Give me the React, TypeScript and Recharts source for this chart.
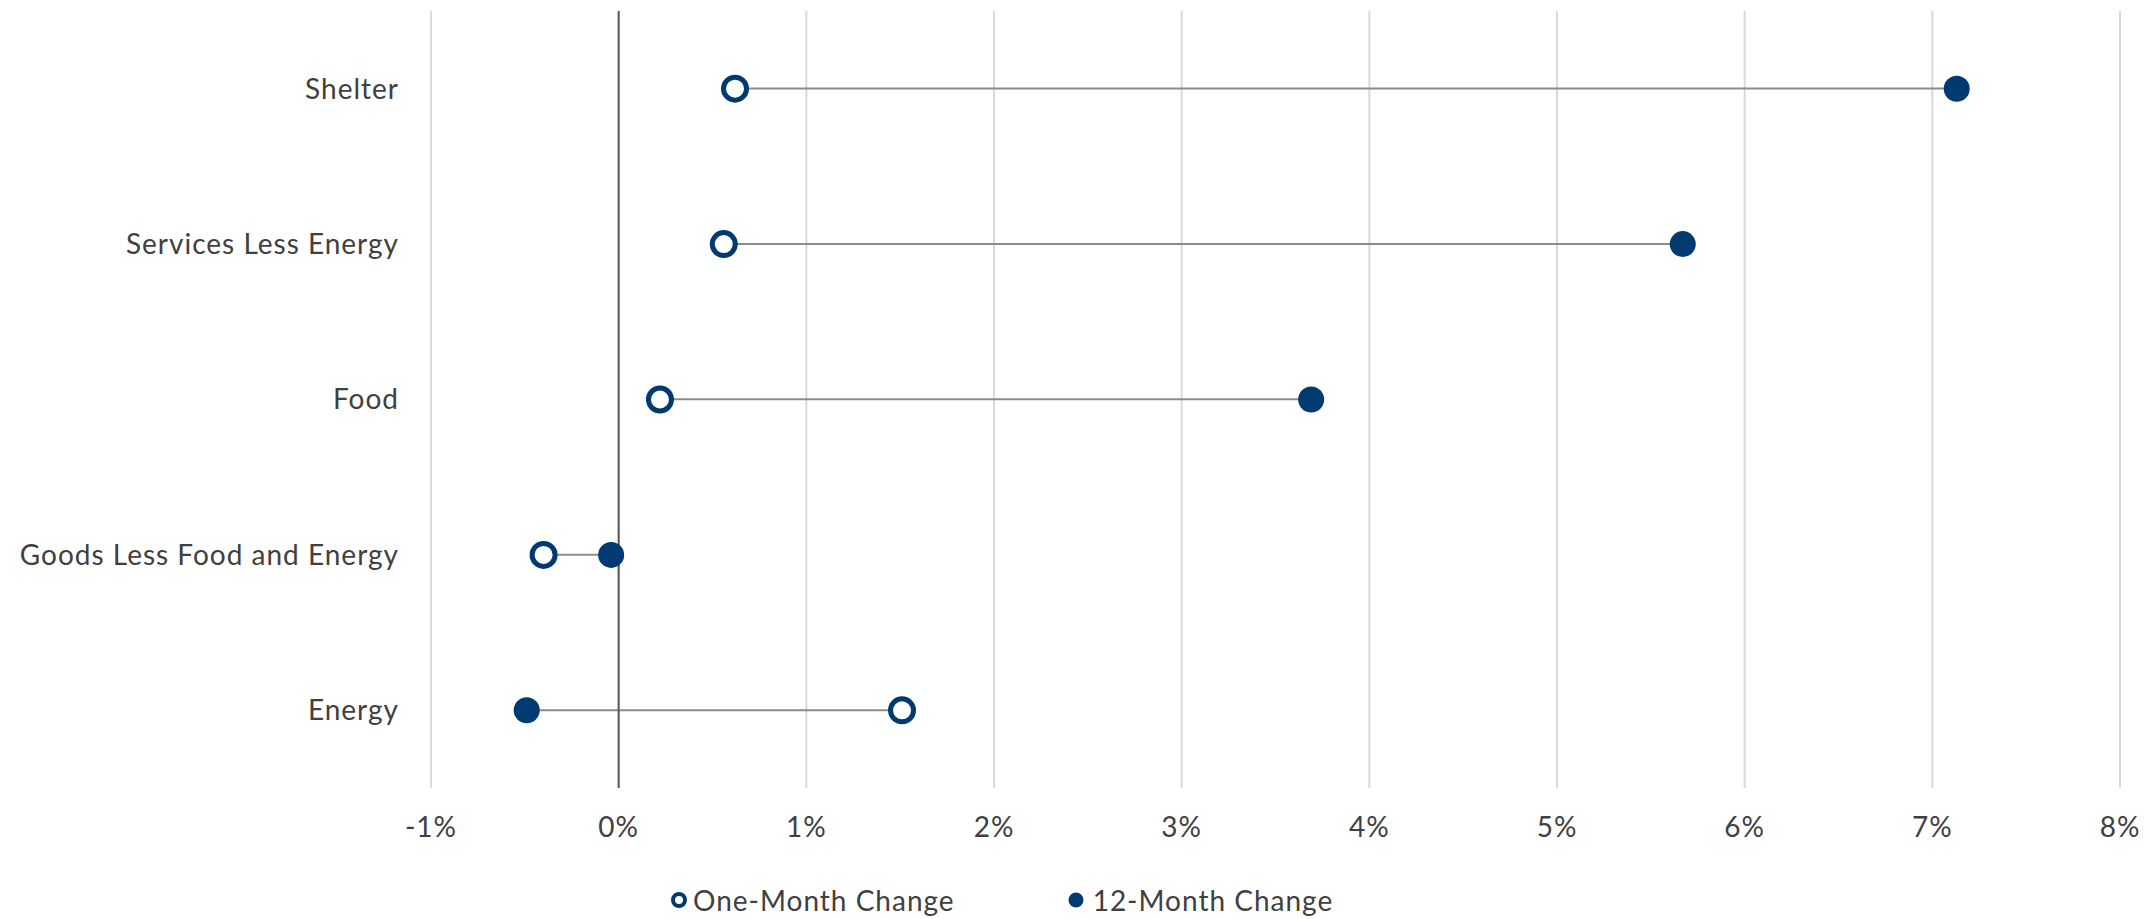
import React from 'react';
import {
  ComposedChart, Bar, Line, XAxis, YAxis, CartesianGrid, ReferenceLine, Legend
} from 'recharts';

const categories = ['Shelter', 'Services Less Energy', 'Food', 'Goods Less Food and Energy', 'Energy'];
const oneMonth = [0.62, 0.56, 0.22, -0.40, 1.51];
const twelveMonth = [7.13, 5.67, 3.69, -0.04, -0.49];
const xTicks = [-1, 0, 1, 2, 3, 4, 5, 6, 7, 8];

const NAVY = '#003a70';
const FONT = 'Lato, "Noto Sans", sans-serif';
const TEXT = { fill: '#404040', fontSize: 28, fontFamily: FONT, letterSpacing: 1 };

const data = categories.map((name, i) => ({
  name,
  oneMonth: oneMonth[i],
  twelveMonth: twelveMonth[i],
  range: [Math.min(oneMonth[i], twelveMonth[i]), Math.max(oneMonth[i], twelveMonth[i])],
}));

// thin connector between the two dots
const Connector = (props: any) => {
  const { x, y, width, height } = props;
  const cy = y + height / 2;
  return <line x1={x} x2={x + width} y1={cy} y2={cy} stroke="#8c8c8c" strokeWidth={2} />;
};

const OpenDot = (props: any) => {
  const { cx, cy, index } = props;
  return <circle key={`o-${index}`} cx={cx} cy={cy} r={11.5} fill="#fff" stroke={NAVY} strokeWidth={5} />;
};

const FilledDot = (props: any) => {
  const { cx, cy, index } = props;
  return <circle key={`f-${index}`} cx={cx} cy={cy} r={13} fill={NAVY} />;
};

const LegendContent = () => (
  <div style={{ display: 'flex', alignItems: 'center', fontFamily: FONT, fontSize: 28, letterSpacing: 1, color: '#404040', height: 34 }}>
    <svg width={18} height={18} style={{ marginRight: 5 }}>
      <circle cx={9} cy={9} r={6} fill="#fff" stroke={NAVY} strokeWidth={4} />
    </svg>
    <span>One-Month Change</span>
    <svg width={18} height={18} style={{ marginLeft: 112, marginRight: 8 }}>
      <circle cx={9} cy={9} r={7.5} fill={NAVY} />
    </svg>
    <span>12-Month Change</span>
  </div>
);

export default function App() {
  return (
    <div style={{ position: 'absolute', left: 0, top: 0, width: 2144, height: 919, background: '#fff' }}>
      <ComposedChart
        width={2144}
        height={919}
        data={data}
        layout="vertical"
        margin={{ top: 11, right: 24, left: 0, bottom: 37 }}
      >
        <CartesianGrid horizontal={false} stroke="#d9d9d9" strokeWidth={2} />
        <XAxis
          type="number"
          domain={[-1, 8]}
          ticks={xTicks}
          tickFormatter={(v: number) => `${v}%`}
          axisLine={false}
          tickLine={false}
          tickSize={0}
          tickMargin={29}
          height={60}
          tick={TEXT}
        />
        <YAxis
          type="category"
          dataKey="name"
          width={431}
          axisLine={false}
          tickLine={false}
          tickSize={0}
          tickMargin={32}
          tick={TEXT}
        />
        <ReferenceLine x={0} stroke="#595959" strokeWidth={2} />
        <Bar dataKey="range" shape={<Connector />} isAnimationActive={false} legendType="none" />
        <Line dataKey="oneMonth" name="One-Month Change" stroke="none" dot={<OpenDot />} activeDot={false} isAnimationActive={false} />
        <Line dataKey="twelveMonth" name="12-Month Change" stroke="none" dot={<FilledDot />} activeDot={false} isAnimationActive={false} />
        <Legend
          verticalAlign="bottom"
          content={<LegendContent />}
          wrapperStyle={{ left: 670, width: 760, bottom: 2 }}
        />
      </ComposedChart>
    </div>
  );
}
